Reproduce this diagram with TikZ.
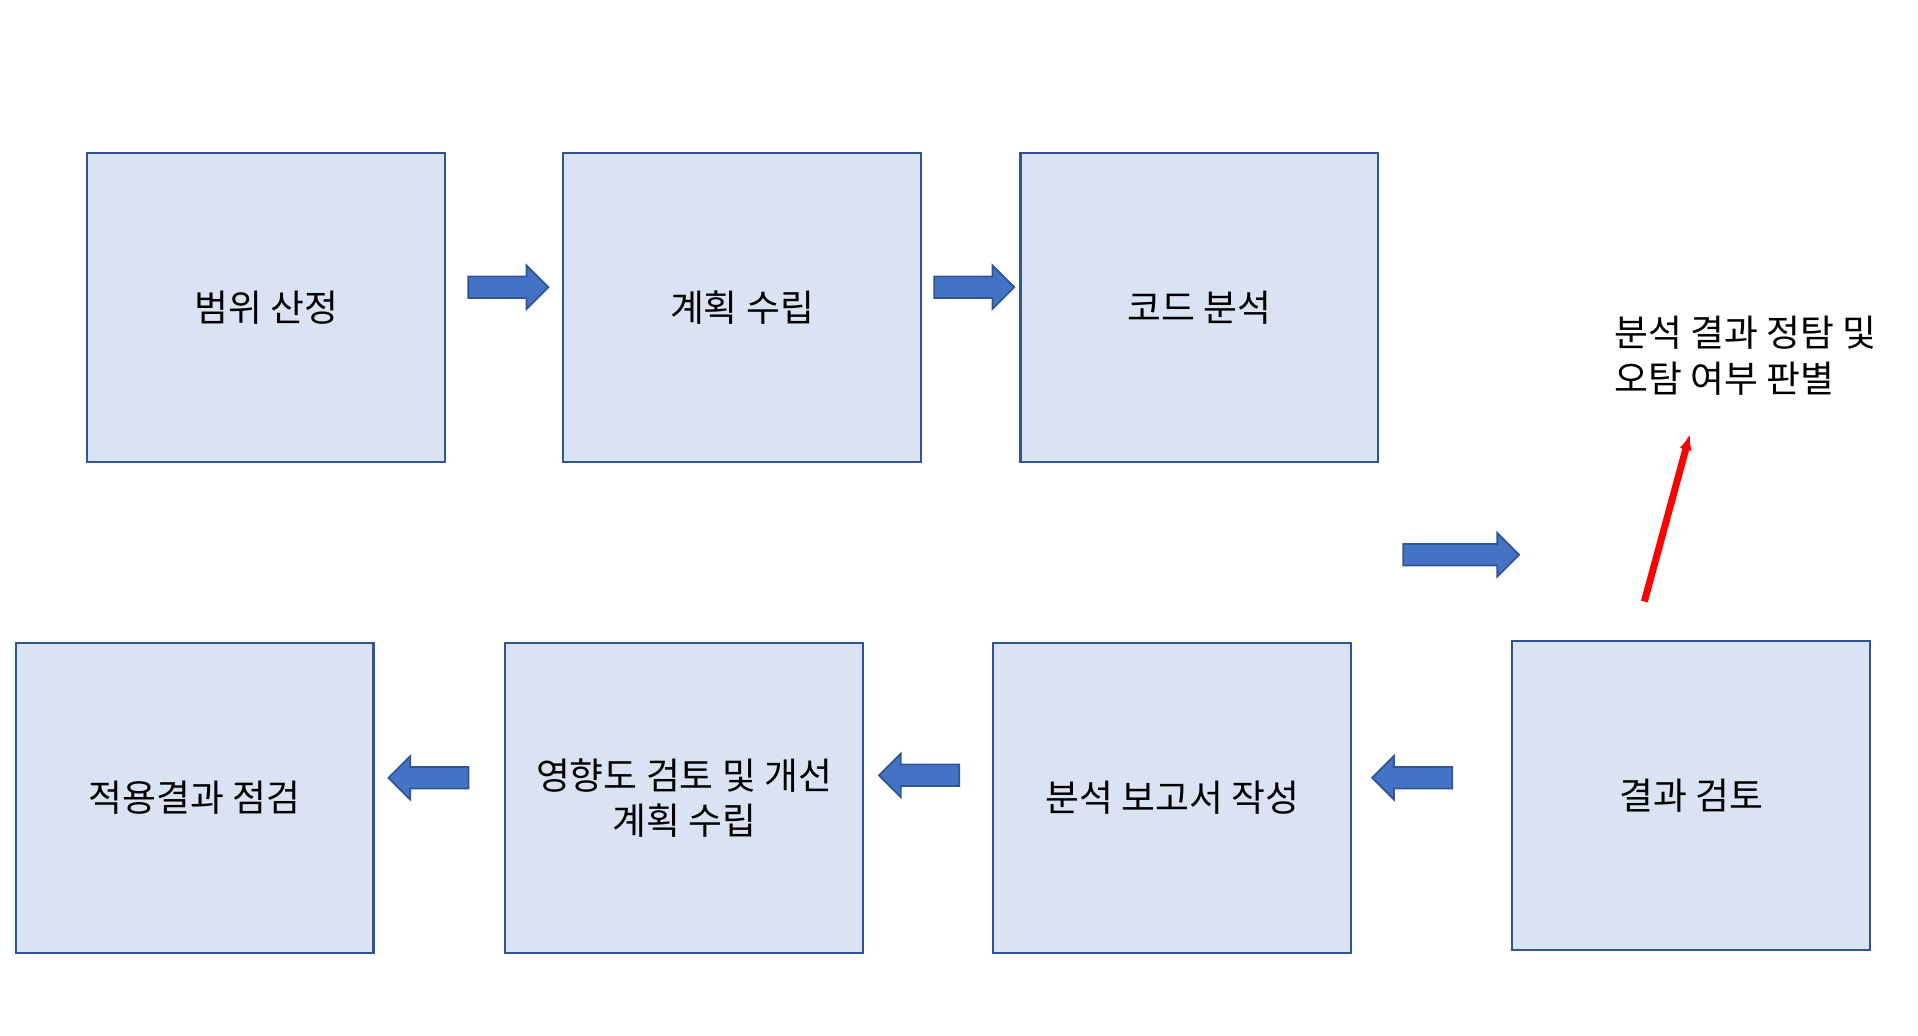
\documentclass[tikz,border=0pt]{standalone}
\usepackage{fontspec}
\setmainfont{Noto Sans CJK KR}
\usetikzlibrary{shapes.arrows,arrows.meta}
\definecolor{boxfill}{HTML}{DAE3F3}
\definecolor{boxline}{HTML}{2F5597}
\definecolor{arrfill}{HTML}{4472C4}
\begin{document}
\begin{tikzpicture}[x=0.01cm,y=-0.01cm,
  box/.style={draw=boxline,fill=boxfill,line width=0.5pt,minimum width=2.9cm,minimum height=2.51cm,anchor=north west,inner sep=0pt,align=center,font=\fontsize{8.5}{10.5}\selectfont},
  barr/.style={single arrow,draw=boxline,fill=arrfill,line width=0.4pt,inner sep=0.08cm,minimum width=0.34cm,minimum height=0.65cm,single arrow head extend=0.09cm}]
\useasboundingbox (0,0) rectangle (1556,840);
\node[box] (b1) at (70,123) {범위 산정};
\node[box] (b2) at (456,123) {계획 수립};
\node[box] (b3) at (827,123) {코드 분석};
\node[box] (b4) at (1226,519) {결과 검토};
\node[box] (b5) at (805,521) {분석 보고서 작성};
\node[box] (b6) at (409,521) {영향도 검토 및 개선\\계획 수립};
\node[box] (b7) at (12,521) {적용결과 점검};
\node[barr] (a1) at (408,233) {};
\node[barr] (a2) at (786,233) {};
\node[barr,shape border rotate=180] (a4) at (1150,631) {};
\node[barr,shape border rotate=180] (a5) at (750,629) {};
\node[barr,shape border rotate=180] (a6) at (352,631) {};
\node[barr,shape border rotate=-40.7,minimum height=0.94cm] (a3) at (1181,450) {};
\node[anchor=north west,align=left,inner sep=0pt,font=\fontsize{8.5}{10.5}\selectfont] (t) at (1309,256) {분석 결과 정탐 및\\ 오탐 여부 판별};
\coordinate (r0) at (1334,488);
\coordinate (r1) at (1371,352);
\draw[red,line width=1.6pt,-{Latex[length=0.13cm,width=0.1cm]}] (r0) -- (r1);
\end{tikzpicture}
\end{document}
